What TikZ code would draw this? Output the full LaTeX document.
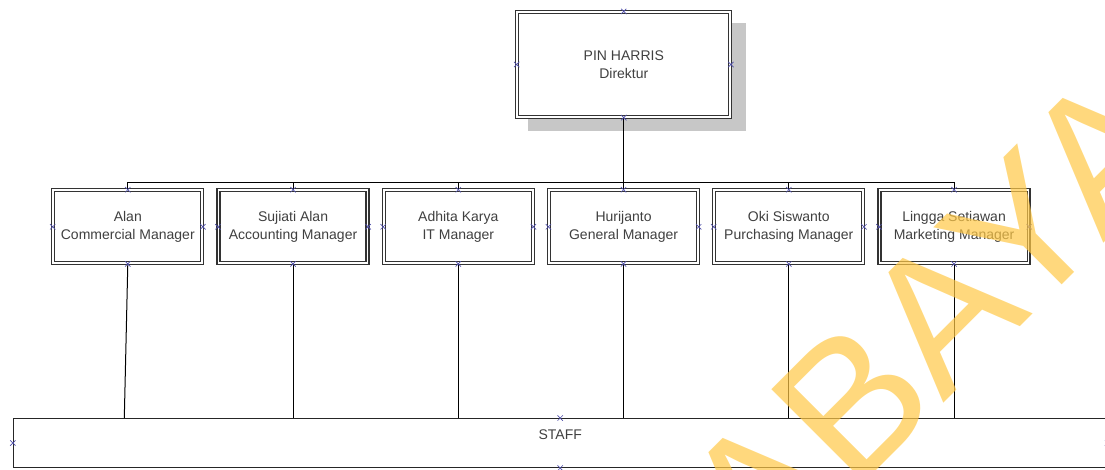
\documentclass[tikz,border=0pt]{standalone}
\usepackage{fontspec}
\setmainfont{Liberation Sans}
\usetikzlibrary{calc,shadows,shapes.misc}
\definecolor{wmark}{RGB}{255,200,70}
\definecolor{pinblue}{RGB}{80,80,170}

\tikzset{
  box/.style={draw=black!80, double, double distance=1.3pt, line width=0.9pt, fill=white,
    inner sep=0pt, align=center, text=black!75, font=\fontsize{10.5}{13.5}\selectfont},
  mgr/.style={box, minimum width=111.75pt, minimum height=54.75pt},
  pin/.style={cross out, draw=pinblue, line width=0.5pt, minimum size=3.5pt, inner sep=0pt},
  wire/.style={draw=black, line width=0.75pt}
}

\begin{document}
\begin{tikzpicture}[x=0.75pt,y=-0.75pt]
  \useasboundingbox (0,0) rectangle (1105,469);
  \clip (0,0) rectangle (1105,469);
  \node[box, minimum width=159.75pt, minimum height=78.75pt,
    drop shadow={shadow xshift=9.75pt, shadow yshift=-9pt, shadow scale=1.025,
      fill=black!22, opacity=1}]
    at (623.8,64.5) (dir) {PIN HARRIS\\Direktur};
  \foreach \i/\nm/\job in {1/Alan/Commercial Manager, 2/Sujiati Alan/Accounting Manager,
      3/Adhita Karya/IT Manager, 4/Hurijanto/General Manager,
      5/Oki Siswanto/Purchasing Manager, 6/Lingga Setiawan/Marketing Manager}
    \node[mgr] at ({127.8+165.25*(\i-1)},226.8) (m\i) {\nm\\\job};
  \node[draw=black!85, line width=0.75pt, minimum width=820.3pt, minimum height=36.75pt,
    inner sep=0pt, text=black!75, font=\fontsize{10.5}{13.5}\selectfont]
    at (560.2,443) (staff) {\raisebox{12pt}{STAFF}};

  \coordinate (bus) at (623.8,182);
  \draw[wire] (dir.south) -- (bus);
  \foreach \i in {1,...,6}
    \draw[wire] (m\i.north) |- (bus);
  \foreach \i in {2,...,6}
    \draw[wire] (m\i.south) -- (m\i.south |- staff.north);
  \draw[wire] (m1.south) -- ($(m1.south |- staff.north)+(-3.5,0)$);

  % connection points
  \foreach \n in {dir,m1,m2,m3,m4,m5,m6,staff}
    \foreach \a in {north,south,east,west}
      \node[pin] at (\n.\a) (\n-\a) {};

  \node[rotate=45, anchor=base east, inner sep=0pt, text=wmark, opacity=0.7,
    font=\fontsize{143}{143}\selectfont] at (1193.4,153.6) (mark) {ABAYA};
\end{tikzpicture}
\end{document}
